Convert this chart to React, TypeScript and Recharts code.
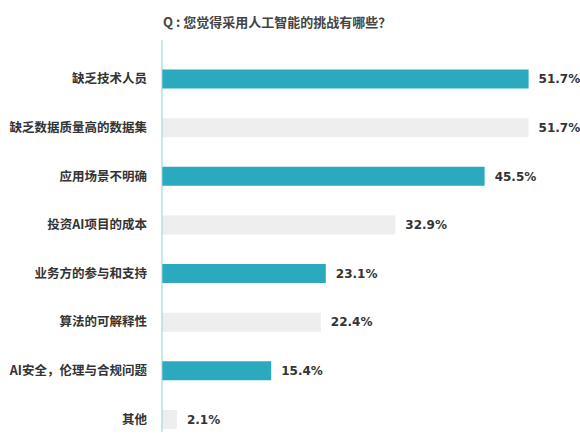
import { Bar, BarChart, Cell, LabelList, XAxis, YAxis } from 'recharts';

const categories = [
    '缺乏技术人员',
    '缺乏数据质量高的数据集',
    '应用场景不明确',
    '投资AI项目的成本',
    '业务方的参与和支持',
    '算法的可解释性',
    'AI安全，伦理与合规问题',
    '其他',
];
const shares = [51.7, 51.7, 45.5, 32.9, 23.1, 22.4, 15.4, 2.1];
const title = 'Q : 您觉得采用人工智能的挑战有哪些？';

const data = categories.map((name, i) => ({ name, value: shares[i] }));

const TEAL = '#2aa9bf';
const GREY = '#eeeeee';
const FONT = '"DejaVu Sans", "Noto Sans CJK SC", sans-serif';

export default function App() {
    return (
        <div style={{ position: 'absolute', left: 0, top: 0, width: 580, height: 441, background: '#fff', fontFamily: FONT }}>
            <div
                style={{
                    position: 'absolute',
                    left: 163,
                    top: 12,
                    fontSize: 13,
                    fontWeight: 700,
                    color: '#444',
                    fontFamily: '"Noto Sans CJK SC", sans-serif',
                    whiteSpace: 'nowrap',
                }}
            >
                {title}
            </div>
            <BarChart
                width={580}
                height={441}
                data={data}
                layout="vertical"
                margin={{ top: 40, right: 28, left: 0, bottom: 9 }}
                barSize={19}
            >
                <XAxis type="number" domain={[0, 55]} hide />
                <YAxis
                    type="category"
                    dataKey="name"
                    width={162}
                    padding={{ top: 14.6, bottom: -11.6 }}
                    axisLine={{ stroke: '#8fd0d8' }}
                    tickLine={false}
                    tickMargin={9}
                    tick={{ fill: '#333', fontSize: 12.5, fontWeight: 700, fontFamily: '"Noto Sans CJK SC", sans-serif' }}
                    interval={0}
                />
                <Bar dataKey="value" isAnimationActive={false}>
                    {data.map((d, i) => (
                        <Cell key={d.name} fill={i % 2 === 0 ? TEAL : GREY} />
                    ))}
                    <LabelList
                        dataKey="value"
                        position="right"
                        offset={10}
                        formatter={(v: number) => `${v}%`}
                        style={{ fill: '#333', fontSize: 12, fontWeight: 600, fontFamily: FONT }}
                    />
                </Bar>
            </BarChart>
        </div>
    );
}
